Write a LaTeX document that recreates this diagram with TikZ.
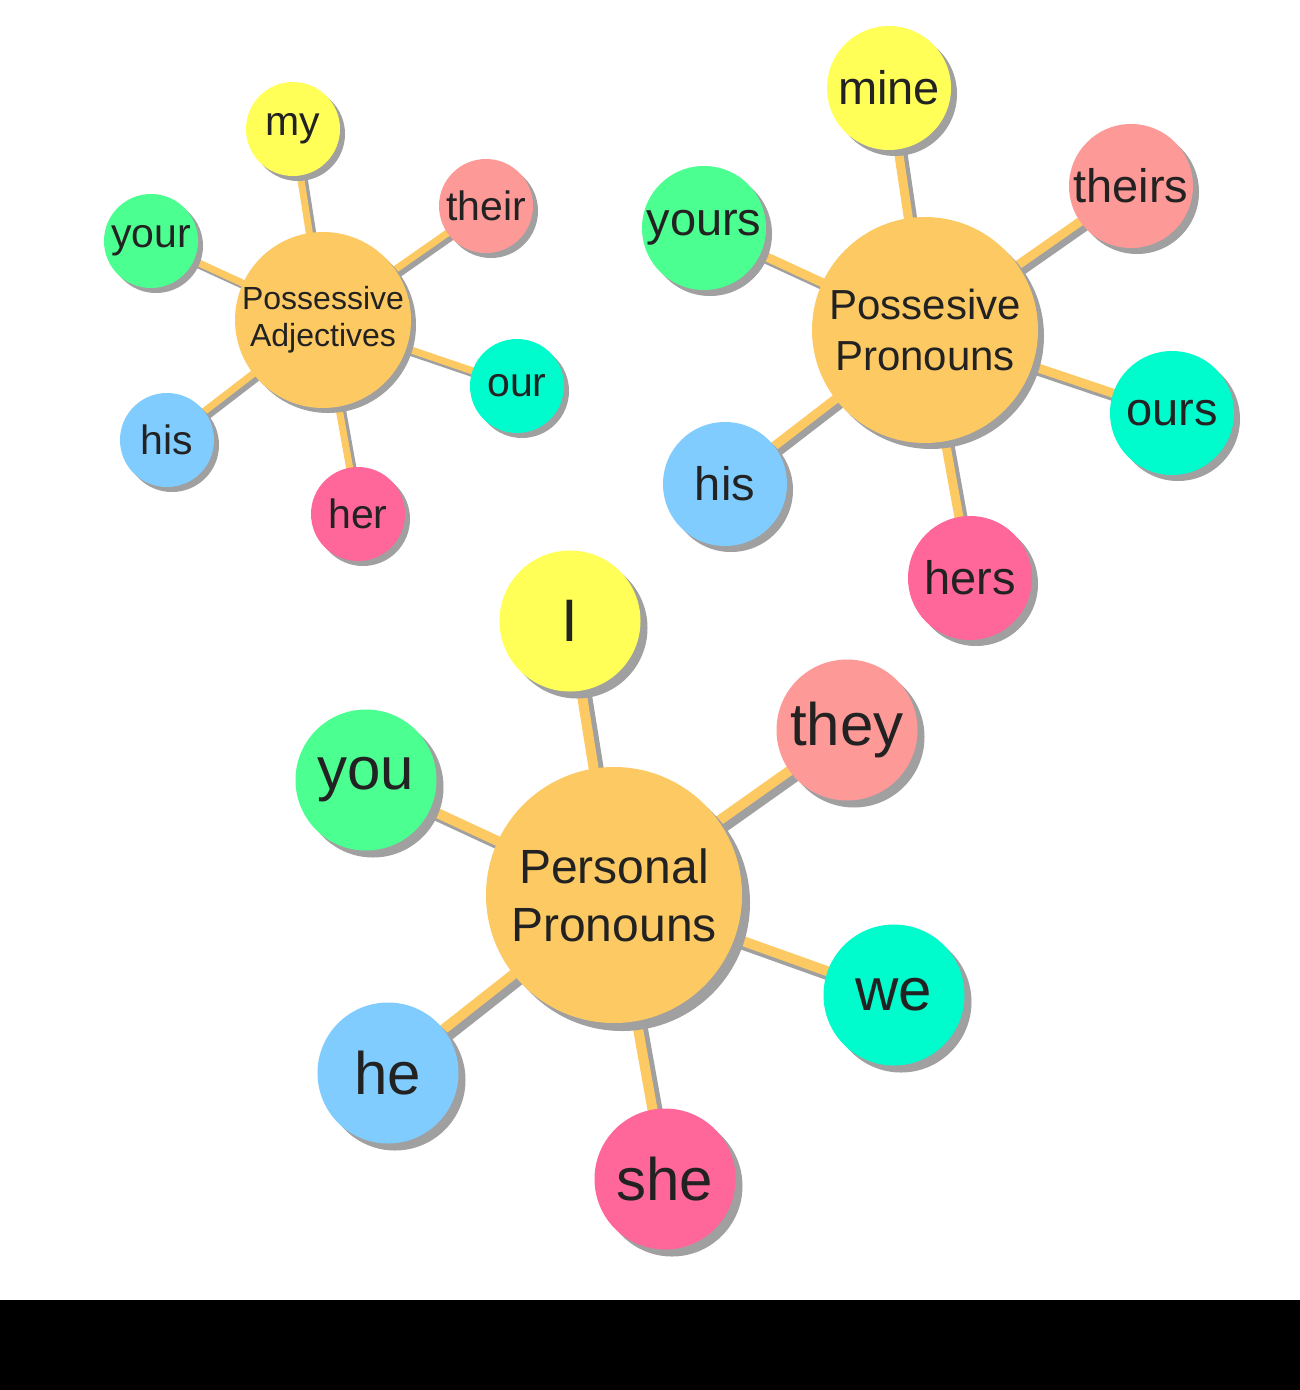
\documentclass[tikz,border=0pt]{standalone}
\usepackage{fontspec}
\setmainfont{Liberation Sans}
\usetikzlibrary{shadows,backgrounds}
\definecolor{bubyellow}{RGB}{255,255,88}
\definecolor{bubsalmon}{RGB}{253,153,150}
\definecolor{bubgreen}{RGB}{75,255,145}
\definecolor{bubteal}{RGB}{0,252,204}
\definecolor{bubblue}{RGB}{128,204,255}
\definecolor{bubpink}{RGB}{255,102,153}
\definecolor{bubcore}{RGB}{253,201,98}
\definecolor{bubshadow}{RGB}{160,160,160}
\definecolor{bubtext}{RGB}{34,34,34}

\tikzset{
  bubble/.style={circle, inner sep=0pt, align=center, text=bubtext,
    drop shadow={shadow xshift=#1, shadow yshift=-#1, fill=bubshadow, opacity=1}},
  adjsat/.style={bubble=5pt, minimum size=94pt, font=\fontsize{41}{41}\selectfont},
  possat/.style={bubble=6pt, minimum size=124pt, font=\fontsize{47}{47}\selectfont},
  persat/.style={bubble=7pt, minimum size=141pt, font=\fontsize{60}{60}\selectfont},
  link/.style={line width=#1, bubcore},
  linkshadow/.style={line width=#1, bubshadow},
}

\begin{document}
\begin{tikzpicture}[x=1pt, y=-1pt]
\useasboundingbox (0,0) rectangle (1300,1390);

% Possessive adjectives
\node[bubble=5pt, fill=bubcore, minimum size=176pt, font=\fontsize{32}{37}\selectfont] (adj) at (323,320) {Possessive\\Adjectives};
\node[adjsat, fill=bubyellow] (adjmy) at (293,129) {my};
\node[adjsat, fill=bubsalmon] (adjtheir) at (486,206) {their};
\node[adjsat, fill=bubgreen] (adjyour) at (151,241) {your};
\node[adjsat, fill=bubteal] (adjour) at (517,386) {our};
\node[adjsat, fill=bubblue] (adjhis) at (167,440) {his};
\node[adjsat, fill=bubpink] (adjher) at (358,514) {her};

% Possesive pronouns
\node[bubble=6pt, fill=bubcore, minimum size=226pt, font=\fontsize{42}{51}\selectfont] (pos) at (925,330) {Possesive\\Pronouns};
\node[possat, fill=bubyellow] (posmine) at (889,88) {mine};
\node[possat, fill=bubsalmon] (postheirs) at (1131,186) {theirs};
\node[possat, fill=bubgreen] (posyours) at (704,228) {yours};
\node[possat, fill=bubteal] (posours) at (1172,413) {ours};
\node[possat, fill=bubblue] (poshis) at (725,484) {his};
\node[possat, fill=bubpink] (poshers) at (970,578) {hers};

% Personal pronouns
\node[bubble=8pt, fill=bubcore, minimum size=256pt, font=\fontsize{48}{58}\selectfont] (per) at (614,895) {Personal\\Pronouns};
\node[persat, fill=bubyellow] (perI) at (570,621) {I};
\node[persat, fill=bubsalmon] (perthey) at (847,730) {they};
\node[persat, fill=bubgreen] (peryou) at (366,780) {you};
\node[persat, fill=bubteal] (perwe) at (894,995) {we};
\node[persat, fill=bubblue] (perhe) at (388,1073) {he};
\node[persat, fill=bubpink] (pershe) at (665,1179) {she};

% Connectors, behind the bubbles
\begin{scope}[on background layer]
\fill[white] (0,0) rectangle (1300,1300);
\foreach \s in {my,their,your,our,his,her}{
  \draw[linkshadow=7pt, transform canvas={xshift=4pt, yshift=-4pt}] (adj.center) -- (adj\s.center);
  \draw[link=7pt] (adj.center) -- (adj\s.center);
}
\foreach \s in {mine,theirs,yours,ours,his,hers}{
  \draw[linkshadow=9pt, transform canvas={xshift=5pt, yshift=-5pt}] (pos.center) -- (pos\s.center);
  \draw[link=9pt] (pos.center) -- (pos\s.center);
}
\foreach \s in {I,they,you,we,he,she}{
  \draw[linkshadow=10pt, transform canvas={xshift=6pt, yshift=-6pt}] (per.center) -- (per\s.center);
  \draw[link=10pt] (per.center) -- (per\s.center);
}
\end{scope}

% Bottom band
\fill[black] (0,1300) rectangle (1300,1390);
\end{tikzpicture}
\end{document}
